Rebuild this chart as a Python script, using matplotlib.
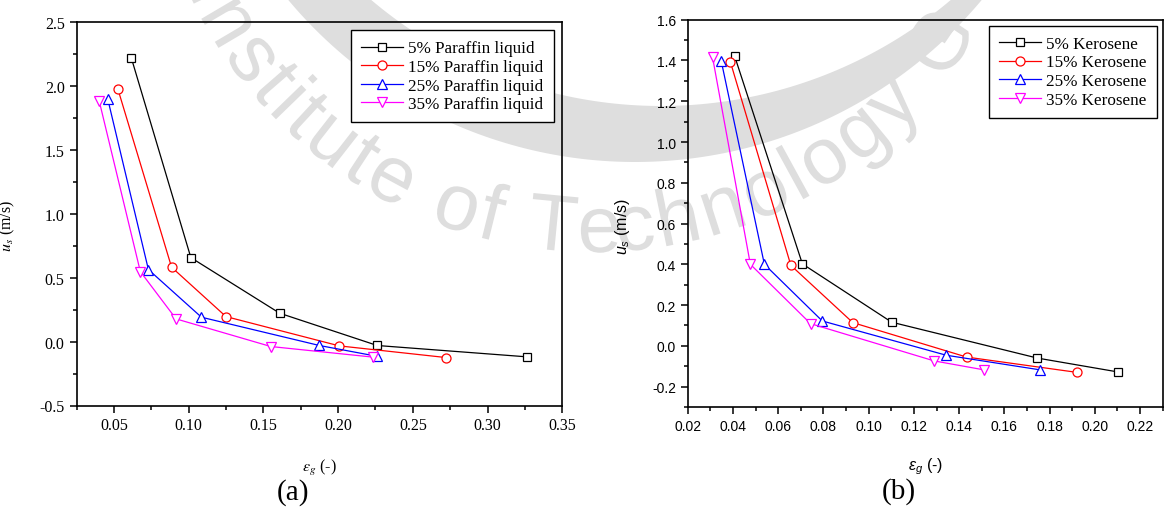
import numpy as np
import matplotlib
matplotlib.use('Agg')
import matplotlib.pyplot as plt
from matplotlib.ticker import MultipleLocator, FormatStrFormatter
from matplotlib.textpath import TextPath
from matplotlib.patches import PathPatch, Polygon
from matplotlib.font_manager import FontProperties
import matplotlib.transforms as mtransforms

plt.rcParams['axes.unicode_minus'] = False
plt.rcParams['mathtext.fontset'] = 'custom'
plt.rcParams['mathtext.rm'] = 'Liberation Sans'
plt.rcParams['mathtext.it'] = 'Liberation Sans:italic'

# (a) paraffin liquid: gas holdup vs superficial liquid velocity
par_labels = ['5% Paraffin liquid', '15% Paraffin liquid', '25% Paraffin liquid', '35% Paraffin liquid']
par_eps = [
    [0.0617, 0.1015, 0.161, 0.2262, 0.3267],
    [0.0526, 0.0886, 0.125, 0.2008, 0.2721],
    [0.0459, 0.0731, 0.1086, 0.1875, 0.2258],
    [0.0402, 0.0677, 0.0916, 0.155, 0.2235],
]
par_us = [
    [2.216, 0.656, 0.221, -0.031, -0.120],
    [1.977, 0.581, 0.195, -0.034, -0.125],
    [1.896, 0.5625, 0.190, -0.031, -0.115],
    [1.880, 0.547, 0.177, -0.039, -0.122],
]

# (b) kerosene
ker_labels = ['5% Kerosene', '15% Kerosene', '25% Kerosene', '35% Kerosene']
ker_eps = [
    [0.0408, 0.0707, 0.1102, 0.1746, 0.2102],
    [0.0389, 0.0656, 0.0930, 0.1433, 0.192],
    [0.0348, 0.0539, 0.0795, 0.1343, 0.1759],
    [0.031, 0.0477, 0.0743, 0.129, 0.1511],
]
ker_us = [
    [1.420, 0.402, 0.116, -0.060, -0.128],
    [1.392, 0.395, 0.114, -0.055, -0.130],
    [1.399, 0.400, 0.122, -0.046, -0.118],
    [1.415, 0.400, 0.109, -0.074, -0.118],
]

colors = ['black', 'red', 'blue', 'magenta']
markers = ['s', 'o', '^', 'v']
msizes = [5.5, 6.5, 7, 7]

W, H = 1164, 510
fig = plt.figure(figsize=(W / 100, H / 100), dpi=100)

# faint watermark in the background (crescent + curved text)
wm_color = '#dedede'
bg = fig.add_axes([0, 0, 1, 1], zorder=-10)
bg.set_xlim(0, W)
bg.set_ylim(0, H)
bg.axis('off')
a = np.linspace(np.pi, 2 * np.pi, 200)
outer = np.column_stack([635 + 452 * np.cos(a), H + 289 + 452 * np.sin(a)])
inner = np.column_stack([661 + 449 * np.cos(a), H + 342 + 449 * np.sin(a)])[::-1]
bg.add_patch(Polygon(np.vstack([outer, inner]), closed=True, facecolor=wm_color, edgecolor='none'))

wm_text = 'Institute of Technology G'
wm_fp = FontProperties(family='Liberation Sans')
fs = 80
track = 4
cx, cy = 593, H + 192
Rb = 445
ref = TextPath((0, 0), 'l', size=fs, prop=wm_fp).get_extents().x1
adv = [TextPath((0, 0), wm_text[:i] + 'l', size=fs, prop=wm_fp).get_extents().x1 - ref + i * track
       for i in range(len(wm_text) + 1)]
theta0 = np.deg2rad(206) - (adv[1] / 2) / Rb
for i, ch in enumerate(wm_text):
    if ch == ' ':
        continue
    w = adv[i + 1] - adv[i] - track
    th = theta0 + (adv[i] + w / 2) / Rb
    tp = TextPath((0, 0), ch, size=fs, prop=wm_fp)
    tr = (mtransforms.Affine2D().translate(-w / 2, 0)
          .rotate(th + np.pi / 2)
          .translate(cx + Rb * np.cos(th), cy + Rb * np.sin(th)))
    bg.add_patch(PathPatch(tr.transform_path(tp), facecolor=wm_color, edgecolor='none'))

axL = fig.add_axes([76.5 / W, 1 - 406.5 / H, (562.3 - 76.5) / W, (406.5 - 22.7) / H])
axR = fig.add_axes([687.7 / W, 1 - 408 / H, (1162.7 - 687.7) / W, (408 - 20.7) / H])

for ax in (axL, axR):
    ax.set_facecolor('none')
    for s in ax.spines.values():
        s.set_linewidth(1.2)
    ax.tick_params(which='both', direction='out', top=False, right=False, width=1.1)
    ax.tick_params(which='major', length=5)
    ax.tick_params(which='minor', length=3)

for ax, xs, ys, labels in ((axL, par_eps, par_us, par_labels), (axR, ker_eps, ker_us, ker_labels)):
    for x, y, lab, c, m, ms in zip(xs, ys, labels, colors, markers, msizes):
        ax.plot(x, y, color=c, lw=0.9, marker=m, ms=ms, mfc='white', mec=c, mew=0.9, label=lab)

leg_kw = dict(loc='upper right', prop={'family': 'Liberation Serif', 'size': 12.3}, frameon=True,
              fancybox=False, edgecolor='black', framealpha=1, handlelength=2.45,
              handletextpad=0.3, labelspacing=0.15, borderpad=0.6)

# left panel
axL.set_xlim(0.025, 0.35)
axL.set_ylim(-0.5, 2.5)
axL.xaxis.set_major_locator(MultipleLocator(0.05))
axL.xaxis.set_minor_locator(MultipleLocator(0.025))
axL.yaxis.set_major_locator(MultipleLocator(0.5))
axL.yaxis.set_minor_locator(MultipleLocator(0.25))
axL.xaxis.set_major_formatter(FormatStrFormatter('%.2f'))
axL.yaxis.set_major_formatter(FormatStrFormatter('%.1f'))
axL.tick_params(labelsize=11.5, labelfontfamily='Liberation Serif')
axL.set_ylabel(r'$u_s$ (m/s)', fontfamily='Liberation Serif', fontsize=11.5, math_fontfamily='stix')
axL.set_xlabel(r'$\varepsilon_g$ (-)', fontfamily='Liberation Serif', fontsize=11.5, math_fontfamily='stix')
axL.yaxis.set_label_coords(-0.122, 0.47)
axL.xaxis.set_label_coords(0.5, -0.134)
axL.legend(borderaxespad=0.5, **leg_kw).get_frame().set_linewidth(1.0)

# right panel
axR.set_xlim(0.02, 0.23)
axR.xaxis.set_major_locator(MultipleLocator(0.02))
axR.xaxis.set_minor_locator(MultipleLocator(0.01))
axR.yaxis.set_minor_locator(MultipleLocator(0.1))
axR.xaxis.set_major_formatter(FormatStrFormatter('%.2f'))
axR.yaxis.set_major_formatter(FormatStrFormatter('%.1f'))
axR.set_yticks(np.arange(-0.2, 1.61, 0.2))
axR.set_ylim(-0.3, 1.6)
axR.tick_params(labelsize=10, labelfontfamily='Liberation Sans')
axR.set_ylabel(r'$u_s$ (m/s)', fontfamily='Liberation Sans', fontsize=11.5)
axR.set_xlabel(r'$\varepsilon_g$ (-)', fontfamily='Liberation Sans', fontsize=11.5)
axR.yaxis.set_label_coords(-0.117, 0.468)
axR.xaxis.set_label_coords(0.5, -0.124)
axR.legend(borderaxespad=0.35, **leg_kw).get_frame().set_linewidth(1.0)

fig.text(293 / W, 1 - 493 / H, '(a)', ha='center', va='center', fontsize=21, family='Liberation Serif')
fig.text(899 / W, 1 - 492 / H, '(b)', ha='center', va='center', fontsize=21, family='Liberation Serif')

fig.savefig('out.png', dpi=100, facecolor='white')
